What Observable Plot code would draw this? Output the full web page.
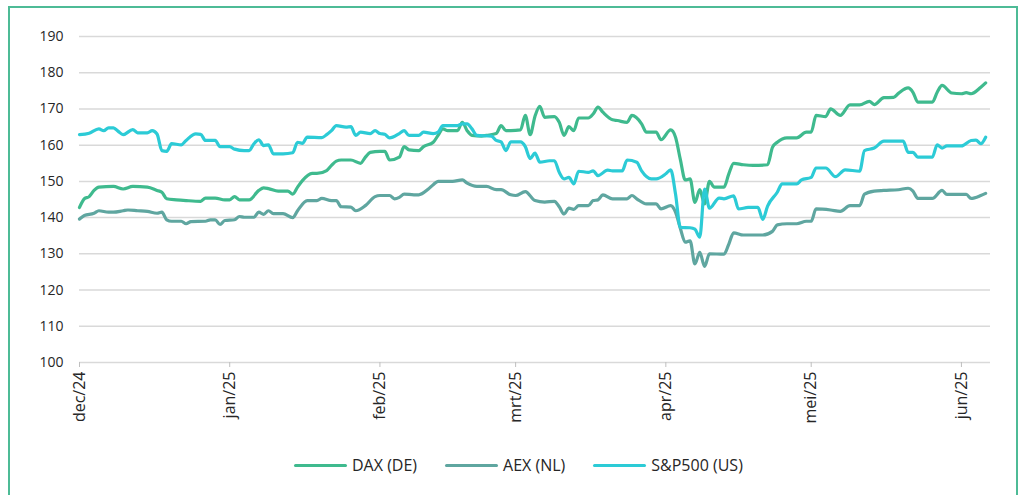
<!DOCTYPE html>
<html>
<head>
<meta charset="utf-8">
<script src="https://cdn.jsdelivr.net/npm/d3@7"></script>
<script src="https://cdn.jsdelivr.net/npm/@observablehq/plot@0.6"></script>
<style>
  html, body { margin: 0; padding: 0; background: #fff; }
  #wrap { position: relative; width: 1025px; height: 495px; overflow: hidden; font-family: "Open Sans", sans-serif; }
  #frame { position: absolute; left: 8px; top: 6px; width: 1010px; height: 520px; border: 2px solid #4dbb96; box-sizing: border-box; }
  #chart { position: absolute; left: 0; top: 0; }
  #legend { position: absolute; left: 294px; top: 454px; display: flex; align-items: center; font-size: 16px; color: #262626; }
  .item { display: flex; align-items: center; margin-right: 28px; }
  .sw { width: 53px; height: 3px; border-radius: 2px; margin-right: 5px; }
</style>
</head>
<body>
<div id="wrap">
  <div id="frame"></div>
  <div id="chart"></div>
  <div id="legend"></div>
</div>
<script>
const seriesNames = ["DAX (DE)", "AEX (NL)", "S&P500 (US)"];
const seriesColors = ["#3fba8e", "#5fa6a0", "#2ccbd6"];

const daxDates = ["2024-12-01","2024-12-02","2024-12-03","2024-12-04","2024-12-05","2024-12-08","2024-12-10","2024-12-12","2024-12-15","2024-12-17","2024-12-18","2024-12-19","2024-12-21","2024-12-23","2024-12-26","2024-12-27","2024-12-29","2024-12-31","2025-01-01","2025-01-02","2025-01-03","2025-01-05","2025-01-07","2025-01-08","2025-01-09","2025-01-11","2025-01-13","2025-01-14","2025-01-15","2025-01-16","2025-01-18","2025-01-19","2025-01-21","2025-01-22","2025-01-23","2025-01-24","2025-01-26","2025-01-28","2025-01-29","2025-01-30","2025-02-01","2025-02-02","2025-02-03","2025-02-05","2025-02-06","2025-02-07","2025-02-09","2025-02-10","2025-02-12","2025-02-13","2025-02-14","2025-02-15","2025-02-17","2025-02-18","2025-02-19","2025-02-20","2025-02-22","2025-02-23","2025-02-25","2025-02-26","2025-02-27","2025-02-28","2025-03-02","2025-03-03","2025-03-04","2025-03-05","2025-03-06","2025-03-07","2025-03-09","2025-03-10","2025-03-11","2025-03-12","2025-03-13","2025-03-14","2025-03-16","2025-03-17","2025-03-18","2025-03-19","2025-03-21","2025-03-22","2025-03-24","2025-03-25","2025-03-27","2025-03-28","2025-03-30","2025-03-31","2025-04-02","2025-04-03","2025-04-04","2025-04-05","2025-04-06","2025-04-07","2025-04-08","2025-04-09","2025-04-10","2025-04-11","2025-04-13","2025-04-14","2025-04-15","2025-04-17","2025-04-19","2025-04-22","2025-04-23","2025-04-24","2025-04-26","2025-04-28","2025-04-30","2025-05-01","2025-05-02","2025-05-04","2025-05-05","2025-05-07","2025-05-09","2025-05-11","2025-05-13","2025-05-14","2025-05-16","2025-05-18","2025-05-19","2025-05-21","2025-05-22","2025-05-23","2025-05-26","2025-05-27","2025-05-28","2025-05-30","2025-06-01","2025-06-02","2025-06-03","2025-06-05","2025-06-06"];
const daxValues = [142.8,145.2,145.8,147.5,148.4,148.6,147.9,148.6,148.4,147.5,147.0,145.2,144.9,144.7,144.5,145.4,145.4,144.9,144.9,145.8,144.9,144.9,147.5,148.2,148.0,147.3,147.3,146.5,148.4,150.2,152.2,152.2,153.0,154.4,155.6,155.9,155.9,155.0,156.7,158.0,158.3,158.3,155.9,156.7,159.6,158.7,158.5,159.6,160.8,162.7,164.5,164.0,164.0,166.3,164.0,162.7,162.5,162.7,163.2,165.4,164.0,164.0,164.2,168.2,162.9,168.0,170.7,167.7,167.9,166.3,162.7,165.1,164.0,167.5,167.5,168.6,170.5,169.1,167.0,166.8,166.3,168.2,165.9,163.6,163.6,161.5,164.2,162.2,156.0,150.4,150.7,144.2,147.7,143.8,150.0,148.4,148.4,152.1,155.0,154.6,154.4,154.6,159.4,160.8,162.0,162.0,163.6,163.6,168.2,167.9,170.0,168.2,171.1,171.1,172.1,171.2,173.1,173.2,174.3,175.8,174.6,171.9,171.9,174.6,176.5,174.4,174.2,174.5,174.2,176.0,177.2];

const aexDates = ["2024-12-01","2024-12-02","2024-12-04","2024-12-05","2024-12-07","2024-12-08","2024-12-10","2024-12-11","2024-12-13","2024-12-15","2024-12-17","2024-12-18","2024-12-19","2024-12-20","2024-12-22","2024-12-23","2024-12-24","2024-12-27","2024-12-28","2024-12-29","2024-12-30","2024-12-31","2025-01-02","2025-01-03","2025-01-04","2025-01-06","2025-01-07","2025-01-08","2025-01-09","2025-01-10","2025-01-12","2025-01-14","2025-01-15","2025-01-17","2025-01-19","2025-01-20","2025-01-22","2025-01-23","2025-01-24","2025-01-26","2025-01-27","2025-01-29","2025-01-31","2025-02-01","2025-02-03","2025-02-04","2025-02-05","2025-02-06","2025-02-08","2025-02-09","2025-02-11","2025-02-12","2025-02-13","2025-02-16","2025-02-18","2025-02-19","2025-02-21","2025-02-23","2025-02-25","2025-02-26","2025-02-28","2025-03-01","2025-03-03","2025-03-05","2025-03-07","2025-03-09","2025-03-10","2025-03-11","2025-03-12","2025-03-13","2025-03-14","2025-03-16","2025-03-17","2025-03-18","2025-03-19","2025-03-21","2025-03-24","2025-03-25","2025-03-26","2025-03-28","2025-03-30","2025-03-31","2025-04-02","2025-04-03","2025-04-04","2025-04-05","2025-04-06","2025-04-07","2025-04-08","2025-04-09","2025-04-10","2025-04-13","2025-04-14","2025-04-15","2025-04-17","2025-04-21","2025-04-23","2025-04-24","2025-04-26","2025-04-28","2025-04-30","2025-05-01","2025-05-02","2025-05-05","2025-05-07","2025-05-09","2025-05-11","2025-05-12","2025-05-14","2025-05-16","2025-05-19","2025-05-21","2025-05-22","2025-05-23","2025-05-26","2025-05-28","2025-05-29","2025-06-02","2025-06-03","2025-06-05","2025-06-06"];
const aexValues = [139.6,140.6,141.2,141.9,141.5,141.5,141.9,142.1,141.9,141.7,141.2,141.5,139.4,139.0,139.0,138.3,138.9,139.0,139.4,139.4,138.1,139.2,139.4,140.3,140.1,140.1,141.5,140.9,141.9,141.1,141.1,140.0,141.9,144.7,144.7,145.3,144.7,144.7,143.0,142.9,141.9,143.3,145.8,146.1,146.1,145.2,145.6,146.5,146.3,146.3,147.9,149.1,150.0,150.0,150.4,149.5,148.6,148.6,147.7,147.7,146.3,146.1,147.2,144.7,144.3,144.5,143.0,141.0,142.6,142.3,143.3,143.3,144.7,144.9,146.3,145.2,145.2,146.1,145.2,143.8,143.8,142.4,143.3,141.5,137.0,133.2,133.6,127.2,130.4,126.5,130.0,129.9,132.7,135.8,135.2,135.2,136.2,138.0,138.3,138.3,139.0,139.0,142.4,142.1,141.7,143.3,143.3,146.5,147.3,147.5,147.7,148.1,147.3,145.3,145.3,147.5,146.4,146.4,145.3,146.1,146.7];

const spxDates = ["2024-12-01","2024-12-03","2024-12-05","2024-12-06","2024-12-07","2024-12-08","2024-12-09","2024-12-10","2024-12-12","2024-12-13","2024-12-15","2024-12-16","2024-12-17","2024-12-18","2024-12-19","2024-12-20","2024-12-22","2024-12-23","2024-12-25","2024-12-26","2024-12-27","2024-12-29","2024-12-30","2025-01-01","2025-01-02","2025-01-04","2025-01-05","2025-01-06","2025-01-07","2025-01-08","2025-01-09","2025-01-10","2025-01-12","2025-01-14","2025-01-15","2025-01-16","2025-01-17","2025-01-20","2025-01-21","2025-01-22","2025-01-23","2025-01-25","2025-01-26","2025-01-27","2025-01-28","2025-01-30","2025-01-31","2025-02-01","2025-02-02","2025-02-03","2025-02-05","2025-02-06","2025-02-07","2025-02-09","2025-02-10","2025-02-12","2025-02-13","2025-02-14","2025-02-15","2025-02-17","2025-02-18","2025-02-19","2025-02-20","2025-02-21","2025-02-24","2025-02-25","2025-02-26","2025-02-27","2025-02-28","2025-03-02","2025-03-03","2025-03-04","2025-03-05","2025-03-06","2025-03-08","2025-03-09","2025-03-10","2025-03-11","2025-03-12","2025-03-13","2025-03-14","2025-03-16","2025-03-17","2025-03-18","2025-03-20","2025-03-21","2025-03-23","2025-03-24","2025-03-26","2025-03-27","2025-03-29","2025-03-30","2025-04-01","2025-04-02","2025-04-03","2025-04-04","2025-04-06","2025-04-07","2025-04-08","2025-04-09","2025-04-10","2025-04-12","2025-04-13","2025-04-15","2025-04-16","2025-04-18","2025-04-20","2025-04-21","2025-04-22","2025-04-24","2025-04-25","2025-04-28","2025-04-29","2025-05-01","2025-05-02","2025-05-04","2025-05-06","2025-05-08","2025-05-11","2025-05-12","2025-05-14","2025-05-16","2025-05-20","2025-05-21","2025-05-22","2025-05-23","2025-05-26","2025-05-27","2025-05-28","2025-05-29","2025-06-01","2025-06-03","2025-06-04","2025-06-05","2025-06-06"];
const spxValues = [162.9,163.3,164.5,164.0,164.8,164.8,163.8,162.9,164.3,163.4,163.4,164.0,163.1,158.5,158.3,160.4,160.1,161.3,163.1,163.0,161.3,161.3,159.6,159.6,158.9,158.5,158.5,160.4,161.5,159.9,160.1,157.6,157.6,157.9,160.8,160.5,162.2,162.1,162.9,164.0,165.4,165.0,165.1,162.7,163.6,163.2,164.0,163.2,163.0,162.0,163.2,164.0,162.7,162.7,163.6,163.2,163.6,165.4,165.4,165.4,165.9,165.9,164.5,162.7,162.5,161.3,160.9,158.5,160.9,160.9,159.6,156.3,157.8,155.3,155.7,155.7,152.5,150.7,151.1,149.3,152.8,152.5,152.9,151.6,153.1,152.9,152.9,155.9,155.3,152.9,150.7,150.7,152.1,153.2,146.5,137.3,137.2,136.8,134.6,147.9,142.6,145.4,145.2,146.0,142.4,142.8,142.8,139.5,143.2,147.0,149.3,149.3,150.4,151.1,153.7,153.7,151.3,153.2,152.8,158.5,159.2,161.1,161.1,158.0,158.0,156.7,156.7,160.1,159.2,159.8,159.8,161.3,161.4,160.4,162.2];

const yTicks = [100, 110, 120, 130, 140, 150, 160, 170, 180, 190];
const tickLabels = ["dec/24", "jan/25", "feb/25", "mrt/25", "apr/25", "mei/25", "jun/25"];
const xStart = "2024-12-01";
const xEnd = "2025-06-07";

const parse = d3.utcParse("%Y-%m-%d");
function rows(name, dates, values) {
  return dates.map((d, i) => ({ series: name, date: parse(d), value: values[i] }));
}
const data = [
  ...rows(seriesNames[0], daxDates, daxValues),
  ...rows(seriesNames[1], aexDates, aexValues),
  ...rows(seriesNames[2], spxDates, spxValues)
];
const monthTicks = d3.utcMonth.range(parse(xStart), parse(xEnd));

const chart = Plot.plot({
  width: 1025,
  height: 445,
  marginLeft: 79,
  marginRight: 35,
  marginTop: 36,
  marginBottom: 83,
  style: { fontFamily: "Open Sans, sans-serif", fontSize: "13px", color: "#262626", background: "transparent" },
  x: { type: "utc", domain: [parse(xStart), parse(xEnd)] },
  y: { domain: [100, 190] },
  color: { domain: seriesNames, range: seriesColors },
  marks: [
    Plot.ruleY(yTicks, { stroke: "#d9d9d9", strokeWidth: 1.5 }),
    Plot.axisY({ ticks: yTicks, tickSize: 0, tickPadding: 16, fontSize: 14, label: null }),
    Plot.axisX({
      ticks: monthTicks,
      tickFormat: (d) => tickLabels[monthTicks.findIndex(t => +t === +d)],
      tickRotate: -90,
      tickSize: 5,
      tickPadding: 4,
      stroke: "#bfbfbf",
      fontSize: 16,
      label: null
    }),
    Plot.line(data, {
      x: "date", y: "value", z: "series", stroke: "series",
      strokeWidth: 3.2, curve: "monotone-x", strokeLinejoin: "round", strokeLinecap: "round"
    })
  ]
});
document.getElementById("chart").appendChild(chart);

const legend = document.getElementById("legend");
seriesNames.forEach((n, i) => {
  const it = document.createElement("div");
  it.className = "item";
  const sw = document.createElement("div");
  sw.className = "sw";
  sw.style.background = seriesColors[i];
  const tx = document.createElement("span");
  tx.textContent = n;
  it.appendChild(sw);
  it.appendChild(tx);
  legend.appendChild(it);
});
</script>
</body>
</html>
